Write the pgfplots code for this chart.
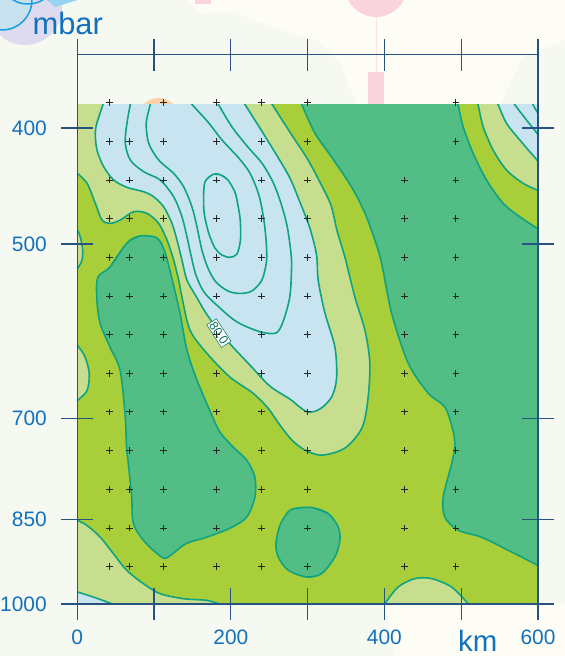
\documentclass[border=0pt]{standalone}
\usepackage{fontspec}
\setmainfont{Liberation Sans}
\usepackage{pgfplots}
\pgfplotsset{compat=1.18}

\definecolor{bggrey}{RGB}{246,249,242}
\definecolor{cream}{RGB}{253,253,245}
\definecolor{ygreen}{RGB}{168,206,57}
\definecolor{mgreen}{RGB}{82,189,132}
\definecolor{pgreen}{RGB}{198,222,141}
\definecolor{lblue}{RGB}{200,228,240}
\definecolor{cline}{RGB}{15,163,130}
\definecolor{axblue}{RGB}{38,83,128}
\definecolor{lbblue}{RGB}{18,113,188}
\definecolor{lavender}{RGB}{222,219,240}
\definecolor{skyfill}{RGB}{200,225,238}
\definecolor{skyline}{RGB}{22,160,225}
\definecolor{pinkc}{RGB}{249,212,222}
\definecolor{peach}{RGB}{252,210,170}

\pgfplotsset{
  region/.style={fill=#1, draw=cline, line width=1.6bp, smooth},
  isoline/.style={draw=cline, line width=1.6bp, smooth, fill=none},
}

\begin{document}
\begin{tikzpicture}
\useasboundingbox (-77.3bp,-52bp) rectangle (487.7bp,604bp);

% background, in pixel units of the reference
\begin{scope}[x=1bp, y=-1bp, xshift=-77.3bp, yshift=604bp]
  \fill[bggrey] (0,0) rectangle (565,656);
  \fill[cream] (187,0) -- (202,14) -- (231,11) -- (259,22) -- (288,32) -- (317,40)
    -- (339,61) -- (357,104) -- (500,104) -- (504,97) -- (522,58) -- (565,40) -- (565,0) -- cycle;
  \fill[cream] (385,604) -- (565,604) -- (565,656) -- (395,656) -- cycle;
  \fill[lavender] (25,8) circle (37);
  \fill[skyfill, draw=skyline, line width=1.5] (2,0) circle (30);
  \draw[skyline, line width=1.5] (28,-26) circle (30);
  \fill[skyline!45] (47,0) -- (78,0) -- (55,7) -- cycle;
  \fill[pinkc] (376,-14) circle (31);
  \draw[pinkc!70, line width=0.6] (376,17) -- (376,72);
  \fill[pinkc] (367.6,72) rectangle (383.8,113);
  \fill[pinkc] (194.6,0) rectangle (210.8,3.6);
  \fill[peach] (158.5,119) circle (21);
  \node[anchor=base west, inner sep=0, text=lbblue,
        font=\fontsize{31}{36}\selectfont] at (32.4,35) {mbar};
  \node[anchor=base west, inner sep=0, text=lbblue,
        font=\fontsize{29.5}{34}\selectfont] at (458,651.5) {km};
\end{scope}

% filled contour regions
\begin{axis}[
  at={(0,0)}, anchor=south west, scale only axis,
  width=460.7bp, height=499.7bp,
  xmin=0, xmax=600, ymin=382.2, ymax=1000,
  ymode=log, y dir=reverse,
  hide axis, clip=true,
]
\addplot[fill=ygreen, draw=none] coordinates {(-20,360) (620,360) (620,1050) (-20,1050)};

% right medium green
\addplot[region=mgreen] coordinates {
(280,360) (284.7,373.2) (292.1,382.2) (309.4,403.9) (331.2,423.0) (357.2,448.1)
(374.5,471.1) (387.5,496.2) (396.3,518.7) (409.3,571.1) (430.9,628.9) (456.9,666.3)
(478.7,684.5) (489.1,715.5) (491.7,736.5) (487.8,762.5) (476.5,814.1) (478.7,846.1)
(496.0,867.5) (526.4,879.3) (561.1,901.6) (599.7,928.1) (621.7,944.3) (650,960)
(650,500) (621.7,496.2) (598.8,485.2) (576.3,474.5) (554.6,462.4) (533.0,442.1)
(515.5,420.0) (502.5,399.0) (496.0,382.5) (492.3,373.2) (490,360)
};
% left medium green
\addplot[region=mgreen] coordinates {
(81.6,492.4) (64.7,499.1) (42.6,522.7) (26.9,532.9) (25.3,553.8) (29.6,582.2) (42.6,609.8)
(55.6,637.4) (62.1,692.4) (64.3,743.6) (66.4,762.5) (70.8,814.1) (72.9,856.0) (85.9,884.4)
(103.4,906.9) (114.2,915.7) (125.0,906.9) (142.4,889.6) (168.5,879.3) (198.8,864.2)
(220.5,846.1) (231.3,814.1) (231.3,783.4) (220.5,758.1) (203.1,739.3) (185.8,718.3)
(174.0,692.4) (155.8,649.8) (142.8,613.3) (133.7,571.1) (124.6,539.1) (114.2,507.9)
(103.8,494.3) (81.6,492.4) (64.7,499.1) (42.6,522.7)
};
% small medium green
\addplot[region=mgreen] coordinates {
(283.4,832.0) (305.1,830.4) (326.8,840.1) (339.8,862.1) (342.0,884.4) (335.5,913.4)
(318.2,943.0) (298.6,949.3) (274.7,937.0) (261.7,913.4) (258.7,890.1) (263.9,859.4)
(274.7,837.4) (283.4,832.0) (305.1,830.4) (326.8,840.1)
};

% pale green band
\addplot[region=pgreen] coordinates {
(-30,360) (-30,420) (-13.4,427.9) (-0.4,436.2) (12.6,444.7) (23.4,462.2) (32.2,477.5)
(43.0,480.6) (56.0,477.5) (73.4,469.9) (90.7,471.4) (106.0,480.6) (116.8,496.2)
(125.5,515.7) (132.0,536.0) (136.3,553.8) (146.7,590.1) (168.5,616.9) (198.8,646.1)
(228.7,666.3) (248.3,685.8) (263.9,708.7) (279.5,729.4) (296.5,743.6) (318.6,750.8)
(348.5,740.8) (370.6,712.8) (378.4,675.3) (381.0,628.9) (374.5,590.1) (361.5,553.8)
(348.5,512.8) (338.1,486.8) (330.3,463.9) (315.9,443.8) (299.0,423.8) (276.8,403.1)
(253.4,381.9) (245.6,374.7) (240,360)
};
\addplot[region=pgreen] coordinates {
(-20,481) (-6.9,481.2) (0,486.8) (3.9,493.4) (7.0,505.9) (6.1,515.7) (1.8,522.4)
(-4.3,527.8) (-20,528)
};
\addplot[region=pgreen] coordinates {
(-20,601) (-6.9,601.6) (0,607.5) (10.0,621.3) (15.6,641.5) (13.0,662.4) (3.5,673.1)
(-5.6,679.2) (-20,679)
};
\addplot[region=pgreen] coordinates {
(-20,843) (-9.5,843.0) (0,851.0) (12.2,859.2) (29.6,878.8) (46.9,907.4) (64.3,937.0)
(85.9,961.4) (107.7,980.2) (138.0,989.7) (168.4,992.9) (183.6,999.3) (196.2,1008.5)
(200,1050) (-20,1050)
};
\addplot[region=pgreen] coordinates {
(393.9,1050) (393.9,1012.5) (400.5,999.3) (417.9,967.8) (439.6,952.2) (461.4,952.2)
(487.4,967.8) (509.0,999.3) (515.1,1012.5) (515,1050)
};
\addplot[region=pgreen] coordinates {
(518,360) (518.4,373.9) (522.0,382.5) (528.5,399.0) (541.5,417.3) (559.0,433.7)
(580.6,444.9) (598.8,450.7) (621.7,456.9) (650,457) (650,360)
};

% light blue
\addplot[region=lblue] coordinates {
(37,360) (37.4,374.7) (33.5,382.2) (25.6,396.2) (23.4,403.9) (25.6,417.3) (34.4,431.0)
(47.4,442.1) (64.7,448.4) (86.4,452.2) (99.5,456.6) (112.5,465.5) (123.3,480.6)
(129.8,496.2) (136.3,515.7) (142.8,536.0) (154.5,552.7) (167.5,571.1) (184.4,591.3)
(202.7,609.8) (224.8,631.3) (250.8,657.4) (276.8,674.0) (299.0,690.7) (315.9,687.1)
(331.2,671.4) (337.7,647.3) (335.5,609.8) (322.5,571.1) (313.7,536.0) (311.6,510.8)
(302.9,485.0) (289.9,461.3) (276.9,440.4) (259.6,421.4) (237.8,400.0) (218.3,382.2)
(210.5,374.7) (210,360)
};
\addplot[region=lblue] coordinates {
(542,360) (542.5,375.4) (548.1,382.5) (559.0,396.4) (576.3,409.3) (598.8,425.4)
(615.4,436.2) (650,436) (650,360)
};
\addplot[region=lblue] coordinates {
(-20,972.9) (-9.5,972.9) (0,977.0) (20.8,986.6) (46.9,1000.6) (59.5,1008.5)
(60,1050) (-20,1050)
};

% isolines inside the light blue
\addplot[isoline] coordinates {
(70.6,374.7) (69.0,382.2) (64.7,396.2) (62.5,411.9) (69.0,425.4) (86.4,435.1)
(108.0,442.1) (125.5,456.6) (136.3,474.5) (142.8,493.1) (148.0,510.8) (154.5,530.9)
(164.9,548.4) (181.5,562.4) (207.5,580.7) (237.8,592.1) (258.7,593.5) (267.8,581.1)
(276.8,553.4) (279.1,520.7) (277.5,504.0) (273.0,482.2) (265.2,462.2) (254.8,443.8)
(240.4,427.9) (222.2,414.9) (201.4,399.2) (183.6,382.2) (175.3,375.4)
};
\addplot[isoline] coordinates {
(96.6,374.7) (95.0,382.2) (89.8,396.2) (93.0,411.9) (106.0,425.4) (125.5,436.5)
(138.5,447.9) (149.3,465.5) (155.8,483.7) (162.3,505.9) (170.1,523.7) (180.6,538.1)
(196.2,547.4) (211.8,550.0) (227.4,547.4) (240.4,536.0) (246.3,517.7) (246.3,501.0)
(243.0,477.5) (236.5,455.1) (224.8,436.2) (209.2,423.0) (188.4,409.3) (170.1,395.4)
(149.3,382.2) (141.5,375.4)
};
\addplot[isoline] coordinates {
(196.2,442.1) (187.1,437.9) (177.6,437.1) (166.2,443.8) (164.5,459.5) (165.6,473.0)
(171.1,489.6) (179.3,504.0) (188.4,510.8) (198.8,513.0) (207.9,509.8) (212.5,496.2)
(212.2,477.5) (209.2,464.0) (205.3,452.5) (196.2,442.1) (187.1,437.9) (177.6,437.1)
};
\addplot[isoline] coordinates {
(563.3,376.8) (569.8,382.5) (585.0,393.9) (598.8,404.1) (612.8,414.9)
};
\addplot[isoline] coordinates {
(589.3,378.3) (593.6,382.5) (598.8,387.7) (608.8,393.9)
};
\end{axis}

% frame, ticks and grid points
\begin{axis}[
  at={(0,0)}, anchor=south west, scale only axis,
  width=460.7bp, height=549.3bp,
  xmin=0, xmax=600, ymin=347.4, ymax=1000,
  ymode=log, y dir=reverse,
  axis line style={axblue, line width=1.2bp},
  tick style={axblue, line width=1.2bp},
  tickpos=both, tick align=center, major tick length=32bp,
  yminorticks=false,
  xtick={0,100,...,600}, xticklabels={0,,200,,400,,600},
  ytick={400,500,700,850,1000}, yticklabels={400,500,700,850,1000},
  ticklabel style={font=\fontsize{21}{24}\selectfont, text=lbblue},
  yticklabel style={anchor=east, xshift=-11bp},
  xticklabel style={anchor=north, yshift=-6bp},
  clip=false,
]
\addplot[only marks, mark=+, mark size=3.3bp,
  mark options={line width=1bp, draw=black!85}] table {
x y
42 381.0
112 381.0
181 381.0
240 381.0
300 381.0
493 381.0
42 410.4
68 410.4
112 410.4
181 410.4
240 410.4
300 410.4
493 410.4
42 442.1
68 442.1
112 442.1
181 442.1
240 442.1
300 442.1
426 442.1
493 442.1
42 476.3
68 476.3
112 476.3
181 476.3
240 476.3
300 476.3
426 476.3
493 476.3
42 513.1
68 513.1
112 513.1
181 513.1
240 513.1
300 513.1
426 513.1
493 513.1
42 552.7
68 552.7
112 552.7
181 552.7
240 552.7
300 552.7
426 552.7
493 552.7
42 595.4
68 595.4
112 595.4
181 595.4
240 595.4
300 595.4
426 595.4
493 595.4
42 641.4
68 641.4
112 641.4
181 641.4
240 641.4
300 641.4
426 641.4
493 641.4
42 691.0
68 691.0
112 691.0
181 691.0
240 691.0
300 691.0
426 691.0
493 691.0
42 744.4
68 744.4
112 744.4
181 744.4
240 744.4
300 744.4
426 744.4
493 744.4
42 801.9
68 801.9
112 801.9
181 801.9
240 801.9
300 801.9
426 801.9
493 801.9
42 863.9
68 863.9
112 863.9
181 863.9
240 863.9
300 863.9
426 863.9
493 863.9
42 930.6
68 930.6
112 930.6
181 930.6
240 930.6
300 930.6
426 930.6
493 930.6
};
\node[rotate=-57, fill=white, draw=cline!70!black, line width=0.5bp,
      inner sep=1.3bp, text=cline!70!black, font=\fontsize{12.5}{13}\selectfont]
  at (axis cs:184.4,593.6) {80.0};
\end{axis}
\end{tikzpicture}
\end{document}
